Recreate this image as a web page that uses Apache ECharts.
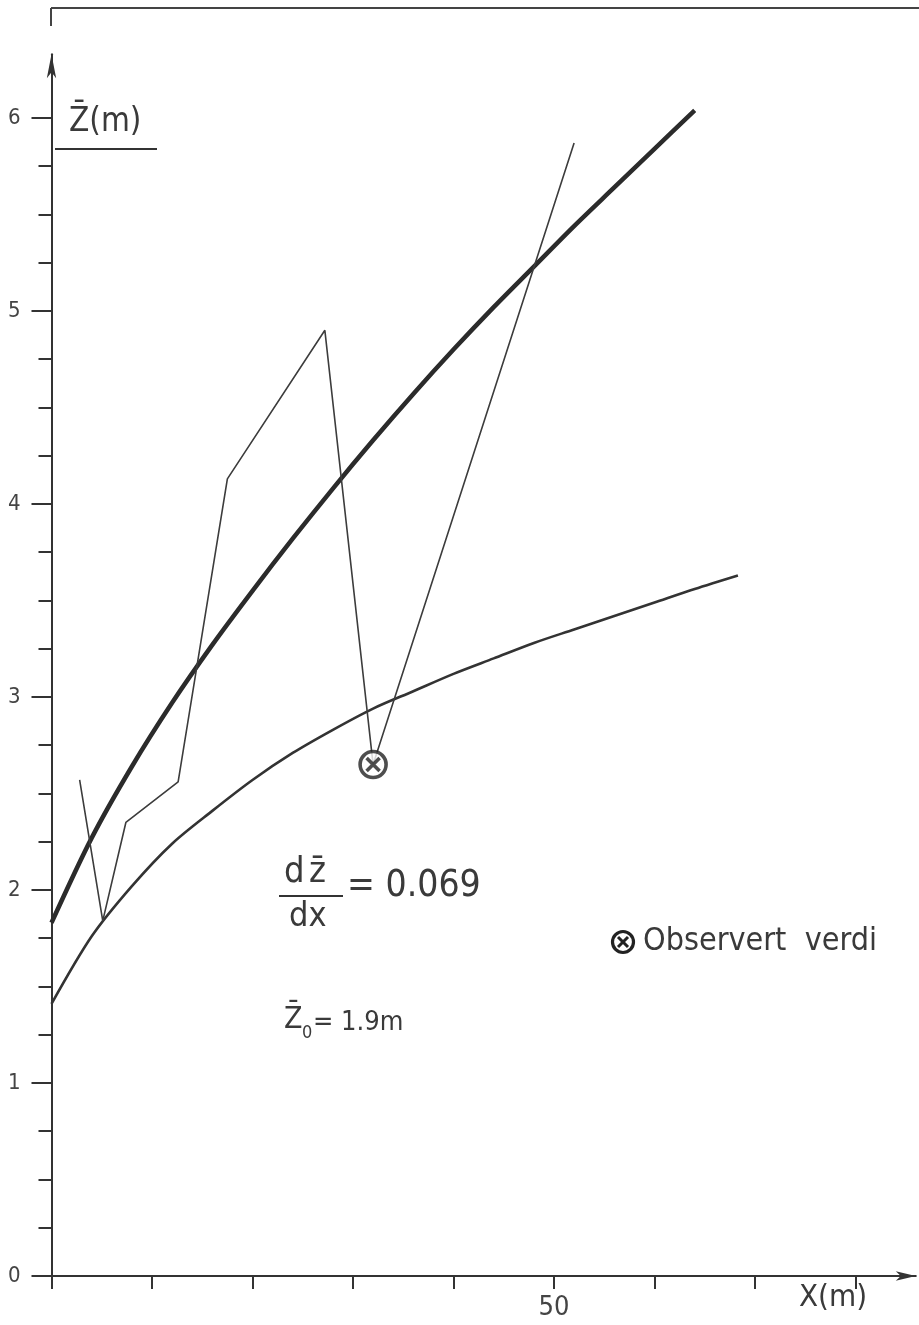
<!DOCTYPE html>
<html>
<head>
<meta charset="utf-8">
<script src="https://cdn.jsdelivr.net/npm/echarts@6/dist/echarts.min.js"></script>
<style>
html,body{margin:0;padding:0;background:#fff;}
#c{width:919px;height:1325px;}
</style>
</head>
<body>
<div id="c"></div>
<script>
// ---- data ----
const upperCurveX = [0, 4, 8, 12, 16, 20, 24, 28, 32, 36, 40, 44, 48, 52, 56, 60, 64];
const upperCurveY = [1.83, 2.27, 2.64, 2.97, 3.27, 3.55, 3.82, 4.08, 4.33, 4.57, 4.80, 5.02, 5.23, 5.44, 5.64, 5.84, 6.04];
const lowerCurveX = [0, 4, 8, 12, 16, 20, 24, 28, 32, 36, 40, 44, 48, 52, 56, 60, 64, 68.3];
const lowerCurveY = [1.41, 1.76, 2.02, 2.24, 2.41, 2.57, 2.71, 2.83, 2.94, 3.03, 3.12, 3.20, 3.28, 3.35, 3.42, 3.49, 3.56, 3.63];
const measuredX = [2.8, 5.1, 7.4, 12.6, 17.5, 27.2, 32.0, 52.0];
const measuredY = [2.57, 1.84, 2.35, 2.56, 4.13, 4.90, 2.65, 5.87];
const observedX = [32.0];
const observedY = [2.65];
const xTickValues = [0, 10, 20, 30, 40, 50, 60, 70, 80];
const xLabelValues = [50];
const yMajorTicks = [0, 1, 2, 3, 4, 5, 6];
const yMinorTicks = [0.25, 0.5, 0.75, 1.25, 1.5, 1.75, 2.25, 2.5, 2.75, 3.25, 3.5, 3.75, 4.25, 4.5, 4.75, 5.25, 5.5, 5.75];

const zip = (xs, ys) => xs.map((x, i) => [x, ys[i]]);
const INK = '#333';
const TXT = '#3a3a3a';
const FONT = '"DejaVu Sans Condensed","Liberation Sans Narrow","DejaVu Sans",sans-serif';
const M = '\u0304';

const chart = echarts.init(document.getElementById('c'), null, {renderer: 'canvas'});
const option = {
  backgroundColor: '#fff',
  animation: false,
  grid: {left: 51.5, right: 3.2, top: 54.3, bottom: 49, containLabel: false},
  xAxis: {
    type: 'value', min: 0, max: 86,
    axisLine: {show: true, symbol: ['none', 'arrow'], symbolSize: [7, 20], lineStyle: {color: INK, width: 2}},
    axisTick: {show: true, customValues: xTickValues, length: 13, lineStyle: {color: INK, width: 2}},
    axisLabel: {show: true, customValues: xLabelValues, margin: 18, color: '#444', fontSize: 27, fontFamily: FONT},
    splitLine: {show: false}
  },
  yAxis: [{
    type: 'value', min: 0, max: 6.33, position: 'left',
    axisLine: {show: true, onZero: false, symbol: ['none', 'arrow'], symbolSize: [7, 24], lineStyle: {color: INK, width: 2}},
    axisTick: {show: true, customValues: yMajorTicks, length: 20, lineStyle: {color: INK, width: 2}},
    axisLabel: {show: true, customValues: yMajorTicks, margin: 31, color: '#444', fontSize: 22, fontFamily: FONT},
    splitLine: {show: false}
  }, {
    type: 'value', min: 0, max: 6.33, position: 'left', offset: 0,
    axisLine: {show: false},
    axisTick: {show: true, customValues: yMinorTicks, length: 13, lineStyle: {color: INK, width: 2}},
    axisLabel: {show: false},
    splitLine: {show: false}
  }],
  series: [
    {type: 'line', data: zip(upperCurveX, upperCurveY), smooth: 0.3, symbol: 'none',
     lineStyle: {color: '#2b2b2b', width: 4.5}, z: 3},
    {type: 'line', data: zip(lowerCurveX, lowerCurveY), smooth: 0.3, symbol: 'none',
     lineStyle: {color: '#333', width: 2.6}, z: 3},
    {type: 'line', data: zip(measuredX, measuredY), smooth: false, symbol: 'none',
     lineStyle: {color: '#3c3c3c', width: 1.6}, z: 4},
    {type: 'scatter', data: zip(observedX, observedY),
     symbol: 'path://M2,12A10,10 0 1,1 22,12A10,10 0 1,1 2,12ZM7,7L17,17M17,7L7,17',
     symbolSize: 26, itemStyle: {color: '#fff', borderColor: '#222', borderWidth: 3.6}, z: 6}
  ],
  graphic: [
    // scan frame
    {type: 'line', shape: {x1: 51, y1: 8, x2: 919, y2: 8}, style: {stroke: '#444', lineWidth: 2}},
    {type: 'line', shape: {x1: 51, y1: 8, x2: 51, y2: 26}, style: {stroke: '#444', lineWidth: 2}},
    // y axis title
    {type: 'text', left: 69, top: 106, style: {text: 'Z' + M + '(m)', font: '33px ' + FONT, fill: TXT}},
    {type: 'line', shape: {x1: 55, y1: 149, x2: 157, y2: 149}, style: {stroke: '#333', lineWidth: 2}},
    // x axis title
    {type: 'text', left: 799, top: 1282, style: {text: 'X(m)', font: '31px ' + FONT, fill: TXT}},
    // gradient formula
    {type: 'text', left: 284, top: 855, style: {text: 'd', font: '36px ' + FONT, fill: TXT}},
    {type: 'text', left: 309, top: 855, style: {text: 'z' + M, font: '36px ' + FONT, fill: TXT}},
    {type: 'line', shape: {x1: 279, y1: 896, x2: 343, y2: 896}, style: {stroke: '#333', lineWidth: 2}},
    {type: 'text', left: 289, top: 900, style: {text: 'dx', font: '34px ' + FONT, fill: TXT}},
    {type: 'text', left: 347, top: 868, style: {text: '= 0.069', font: '37px ' + FONT, fill: TXT}},
    // Z0
    {type: 'text', left: 284, top: 1005, style: {text: 'Z' + M, font: '30px ' + FONT, fill: TXT}},
    {type: 'text', left: 302, top: 1024, style: {text: '0', font: '18px ' + FONT, fill: TXT}},
    {type: 'text', left: 313, top: 1009, style: {text: '= 1.9m', font: '27px ' + FONT, fill: TXT}},
    // legend
    {type: 'circle', shape: {cx: 623, cy: 942, r: 10.5}, style: {fill: '#fff', stroke: '#222', lineWidth: 3.2}},
    {type: 'line', shape: {x1: 618, y1: 937, x2: 628, y2: 947}, style: {stroke: '#222', lineWidth: 3}},
    {type: 'line', shape: {x1: 628, y1: 937, x2: 618, y2: 947}, style: {stroke: '#222', lineWidth: 3}},
    {type: 'text', left: 643, top: 926, style: {text: 'Observert  verdi', font: '32px ' + FONT, fill: TXT}}
  ]
};
chart.setOption(option);
</script>
</body>
</html>
